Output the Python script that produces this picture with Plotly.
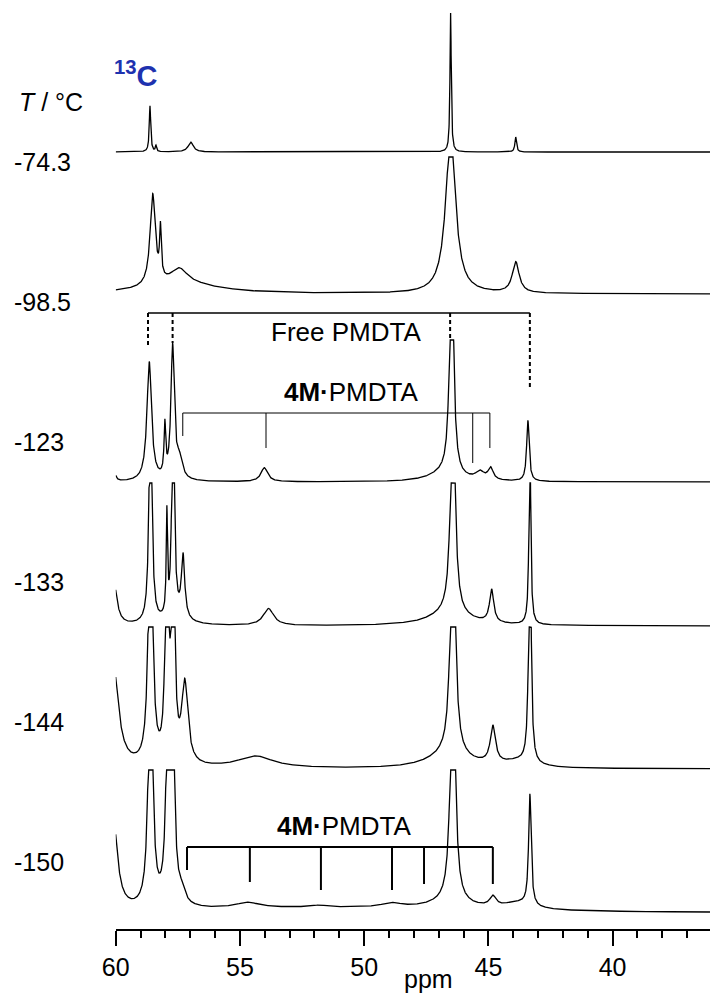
import numpy as np
import plotly.graph_objects as go

W, H = 710, 999
FONT = "Liberation Sans, Arial, sans-serif"

# Temperatures of the stacked 13C spectra (top to bottom)
temps = ["-74.3", "-98.5", "-123", "-133", "-144", "-150"]

# Peak tables for each spectrum: centre (ppm), amplitude, line width (FWHM, ppm)
s1_ppm = [58.62, 58.38, 56.98, 46.52, 43.90]
s1_amp = [46, 6, 10, 139, 15]
s1_fwhm = [0.07, 0.06, 0.25, 0.06, 0.08]

s2_ppm = [58.51, 58.20, 57.45, 57.30, 46.52, 43.90]
s2_amp = [91, 49, 15, 10, 158, 31]
s2_fwhm = [0.25, 0.08, 0.80, 3.5, 0.48, 0.33]

s3_ppm = [60.05, 58.65, 58.02, 57.71, 57.44, 54.02, 46.80, 46.48, 45.34, 44.91, 43.41]
s3_amp = [8, 119, 50, 132, 20, 14, 8, 267, 8, 12, 61]
s3_fwhm = [0.15, 0.22, 0.08, 0.16, 0.30, 0.33, 1.5, 0.17, 0.40, 0.25, 0.12]

s4_ppm = [60.08, 58.60, 57.94, 57.69, 57.29, 57.60, 53.85, 46.60, 46.43, 44.87, 43.33]
s4_amp = [45, 250, 100, 300, 62, 8, 17, 12, 250, 33, 200]
s4_fwhm = [0.30, 0.13, 0.06, 0.10, 0.16, 1.0, 0.50, 2.0, 0.20, 0.20, 0.08]

s5_ppm = [60.10, 58.60, 57.94, 57.69, 57.22, 54.37, 46.60, 46.43, 44.82, 43.80, 43.33]
s5_amp = [104, 300, 320, 320, 80, 12, 14, 300, 37, 6, 300]
s5_fwhm = [0.50, 0.18, 0.12, 0.12, 0.30, 1.8, 2.0, 0.20, 0.25, 1.5, 0.10]

s6_ppm = [60.10, 58.60, 57.88, 57.72, 57.35, 54.70, 52.00, 51.80, 48.90, 46.60, 46.43,
          44.82, 43.80, 43.33]
s6_amp = [93, 300, 300, 250, 12, 5.5, 5, 2, 4.5, 7, 300, 10, 7, 111]
s6_fwhm = [0.40, 0.18, 0.15, 0.15, 0.35, 1.2, 14.0, 0.8, 1.0, 2.0, 0.20, 0.30, 1.5, 0.12]

# Assignments marked above the spectra
free_pmdta_ppm = [58.70, 57.71, 46.54, 43.33]
complex_123_ppm = [57.30, 53.95, 45.63, 44.94]
complex_150_ppm = [57.13, 54.60, 51.74, 48.88, 47.59, 44.82]

spectra = [
    (s1_ppm, s1_amp, s1_fwhm),
    (s2_ppm, s2_amp, s2_fwhm),
    (s3_ppm, s3_amp, s3_fwhm),
    (s4_ppm, s4_amp, s4_fwhm),
    (s5_ppm, s5_amp, s5_fwhm),
    (s6_ppm, s6_amp, s6_fwhm),
]

# Layout of the stack (pixel rows of each baseline, vertical cut-off of tall lines)
baselines = [152, 294, 482, 626, 769, 913]
cutoffs = [None, 137, 142, 143, 142, 143]

X_LEFT, X_RIGHT = 60.0, 36.08
AXIS_Y = 930
X0_PX = 115.7


def py(p):
    return 1 - p / H


def lorentz(x, centres, amps, widths):
    y = np.zeros_like(x)
    for c, a, w in zip(centres, amps, widths):
        y += a / (1 + (2 * (x - c) / w) ** 2)
    return y


ppm = np.arange(X_RIGHT, X_LEFT + 1e-9, 0.005)[::-1]

fig = go.Figure()
layout_axes = {}
for i, ((c, a, w), base, cut) in enumerate(zip(spectra, baselines, cutoffs)):
    inten = lorentz(ppm, c, a, w)
    if cut is not None:
        inten = np.minimum(inten, cut)
    name = "y" if i == 0 else f"y{i + 1}"
    key = "yaxis" if i == 0 else f"yaxis{i + 1}"
    fig.add_trace(go.Scatter(x=ppm, y=inten, mode="lines", yaxis=name, xaxis="x",
                             line=dict(color="black", width=1.3), hoverinfo="skip",
                             showlegend=False))
    pad = 20
    layout_axes[key] = dict(domain=[py(base + pad), 1.0], range=[-pad, base],
                            visible=False, anchor="x", fixedrange=True, automargin=False)

fig.update_layout(**layout_axes)

fig.update_layout(
    width=W, height=H,
    margin=dict(l=0, r=0, t=0, b=0, autoexpand=False),
    paper_bgcolor="white", plot_bgcolor="rgba(0,0,0,0)",
    font=dict(family=FONT, color="black", size=25),
    xaxis=dict(
        domain=[X0_PX / W, 1.0], range=[X_LEFT, X_RIGHT],
        anchor="free", position=py(AXIS_Y), automargin=False,
        showline=True, linecolor="black", linewidth=2,
        ticks="outside", ticklen=15, tickwidth=2, tickcolor="black",
        tick0=0, dtick=5, tickfont=dict(size=25, family=FONT),
        showgrid=False, zeroline=False,
        minor=dict(dtick=1, tick0=0, ticks="outside", ticklen=7, tickwidth=1.5,
                   tickcolor="black", showgrid=False),
    ),
)

shapes = []
# Free PMDTA bracket with dashed drops
FREE_Y = 313
free_drop = [347, 343, 340, 388]
shapes.append(dict(type="line", xref="x", yref="paper",
                   x0=free_pmdta_ppm[0], x1=free_pmdta_ppm[-1], y0=py(FREE_Y), y1=py(FREE_Y),
                   line=dict(color="black", width=1.4)))
for xv, yb in zip(free_pmdta_ppm, free_drop):
    shapes.append(dict(type="line", xref="x", yref="paper", x0=xv, x1=xv,
                       y0=py(FREE_Y), y1=py(yb),
                       line=dict(color="black", width=2, dash="4px,3px")))

# 4M·PMDTA bracket at -123 °C
C1_Y = 413
c1_drop = [436, 448, 463, 448]
shapes.append(dict(type="line", xref="x", yref="paper",
                   x0=complex_123_ppm[0], x1=complex_123_ppm[-1], y0=py(C1_Y), y1=py(C1_Y),
                   line=dict(color="black", width=1)))
for xv, yb in zip(complex_123_ppm, c1_drop):
    shapes.append(dict(type="line", xref="x", yref="paper", x0=xv, x1=xv,
                       y0=py(C1_Y), y1=py(yb), line=dict(color="black", width=1)))

# 4M·PMDTA bracket at -150 °C
C2_Y = 847
c2_drop = [870, 882, 890, 890, 884, 884]
shapes.append(dict(type="line", xref="x", yref="paper",
                   x0=complex_150_ppm[0], x1=complex_150_ppm[-1], y0=py(C2_Y), y1=py(C2_Y),
                   line=dict(color="black", width=2)))
for xv, yb in zip(complex_150_ppm, c2_drop):
    shapes.append(dict(type="line", xref="x", yref="paper", x0=xv, x1=xv,
                       y0=py(C2_Y), y1=py(yb), line=dict(color="black", width=2)))

fig.update_layout(shapes=shapes)

ann = []
for i, t in enumerate(temps):
    ann.append(dict(text=t, xref="paper", yref="paper", x=12 / W, y=py(162 + 140 * i),
                    xanchor="left", yanchor="middle", showarrow=False,
                    font=dict(size=25, family=FONT)))
ann.append(dict(text="<i>T</i> / °C", xref="paper", yref="paper", x=17 / W, y=py(102),
                xanchor="left", yanchor="middle", showarrow=False,
                font=dict(size=25, family=FONT)))
ann.append(dict(text="<b><sup>13</sup>C</b>", xref="paper", yref="paper", x=112 / W, y=py(94),
                xanchor="left", yanchor="bottom", showarrow=False,
                font=dict(size=29, family=FONT, color="rgb(30,50,175)")))
ann.append(dict(text="Free PMDTA", xref="paper", yref="paper", x=346 / W, y=py(332),
                xanchor="center", yanchor="middle", showarrow=False,
                font=dict(size=26, family=FONT)))
ann.append(dict(text="<b>4M·</b>PMDTA", xref="paper", yref="paper", x=351 / W, y=py(392),
                xanchor="center", yanchor="middle", showarrow=False,
                font=dict(size=26, family=FONT)))
ann.append(dict(text="<b>4M·</b>PMDTA", xref="paper", yref="paper", x=344.5 / W, y=py(826),
                xanchor="center", yanchor="middle", showarrow=False,
                font=dict(size=26, family=FONT)))
ann.append(dict(text="ppm", xref="paper", yref="paper", x=428 / W, y=py(979),
                xanchor="center", yanchor="middle", showarrow=False,
                font=dict(size=25, family=FONT)))
fig.update_layout(annotations=ann)

fig.write_html("out.html")
